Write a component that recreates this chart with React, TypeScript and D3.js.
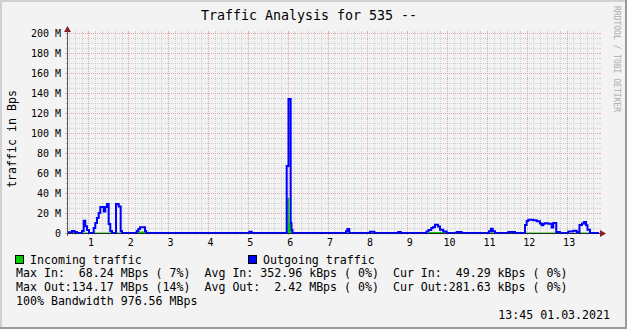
import React from 'react';
import * as d3 from 'd3';

const W = 627;
const H = 329;
const TITLE = 'Traffic Analysis for 535 --';
const Y_LABEL = 'traffic in Bps';
const WATERMARK = 'RRDTOOL / TOBI OETIKER';

const yTicks = [0, 20, 40, 60, 80, 100, 120, 140, 160, 180, 200];
const yTickLabels = ['0', '20 M', '40 M', '60 M', '80 M', '100 M', '120 M', '140 M', '160 M', '180 M', '200 M'];
const xTicks = [1, 2, 3, 4, 5, 6, 7, 8, 9, 10, 11, 12, 13];
const xTickLabels = ['1', '2', '3', '4', '5', '6', '7', '8', '9', '10', '11', '12', '13'];

// [time in days, value in MBps]
const outgoing: [number, number][] = [
  [0.462, 0.7], [0.587, 2], [0.65, 1], [0.713, 0],
  [0.838, 2], [0.881, 12.3], [0.921, 6.7], [0.964, 3], [1.014, 0],
  [1.132, 5], [1.172, 10], [1.215, 15], [1.257, 20], [1.297, 26], [1.383, 21.5],
  [1.423, 26], [1.465, 29], [1.508, 9], [1.548, 2], [1.591, 0],
  [1.691, 29], [1.759, 26.5], [1.809, 2], [1.842, 0],
  [2.211, 2], [2.251, 4], [2.294, 5.7], [2.419, 2], [2.448, 0],
  [5.036, 1.3], [5.097, 0],
  [5.975, 67], [6.02, 134], [6.075, 10], [6.095, 3], [6.12, 0],
  [7.463, 1.7], [7.496, 4], [7.546, 0],
  [8.065, 1.2], [8.178, 0],
  [8.775, 1], [8.836, 0],
  [9.483, 1.5], [9.533, 3], [9.603, 5], [9.654, 6], [9.696, 8.3], [9.772, 6.5],
  [9.822, 3.3], [9.904, 1.5], [9.99, 0],
  [10.241, 1], [10.366, 0],
  [11.052, 1.7], [11.097, 4.3], [11.144, 1.7], [11.202, 0],
  [11.536, 1], [11.704, 0],
  [11.955, 8], [11.997, 12], [12.037, 13.3], [12.162, 12.7], [12.248, 11.7], [12.33, 9.5],
  [12.373, 7.7], [12.413, 9.3], [12.455, 9.7], [12.54, 9.3], [12.624, 5.5], [12.665, 10],
  [12.74, 1], [12.832, 0],
  [13.041, 1.5], [13.167, 2.3], [13.252, 0.8], [13.322, 8], [13.385, 9.5], [13.435, 11],
  [13.485, 7.7], [13.523, 3.3], [13.586, 0],
  [13.812, 0],
];

const incoming: [number, number][] = [
  [0.462, 0], [0.788, 0.5], [1.842, 0],
  [2.211, 1.5], [2.448, 0],
  [5.989, 35], [6.04, 10], [6.083, 5], [6.113, 0],
  [7.488, 0.5], [7.546, 0],
  [9.546, 1], [9.997, 0],
  [11.077, 0.5], [11.202, 0],
  [11.955, 0.5], [12.758, 0],
  [13.335, 0.5], [13.586, 0],
  [13.812, 0],
];

const legendIn = 'Incoming traffic';
const legendOut = 'Outgoing traffic';
const statLines = [
  'Max In:  68.24 MBps ( 7%)  Avg In: 352.96 kBps ( 0%)  Cur In:  49.29 kBps ( 0%)',
  'Max Out:134.17 MBps (14%)  Avg Out:  2.42 MBps ( 0%)  Cur Out:281.63 kBps ( 0%)',
  '100% Bandwidth 976.56 MBps',
];
const DATE = '13:45 01.03.2021';

const X0 = 67;
const X1 = 599;
const Y0 = 233;
const Y1 = 33;
const FONT = '"DejaVu Sans Mono", monospace';
const MINOR = '#d2d2d2';
const MAJOR = '#e2a6a6';

export default function App() {
  const x = d3.scaleLinear().domain([0.462, 13.812]).range([X0, X1]);
  const y = d3.scaleLinear().domain([0, 200]).range([Y0, Y1]);
  const px = (v: number) => Math.round(v) + 0.5;

  const minorX: number[] = [];
  const [d0, d1] = x.domain();
  for (let k = Math.ceil(d0 * 6); k <= Math.floor(d1 * 6); k++) {
    if (k % 6 !== 0) minorX.push(k / 6);
  }
  const minorY: number[] = [];
  for (let v = 5; v < 200; v += 5) if (v % 20 !== 0) minorY.push(v);

  const area = d3.area<[number, number]>()
    .curve(d3.curveStepAfter)
    .x(d => x(d[0]))
    .y0(Y0)
    .y1(d => y(d[1]));
  const line = d3.line<[number, number]>()
    .curve(d3.curveStepAfter)
    .x(d => x(d[0]))
    .y(d => y(d[1]));

  const hLine = (v: number, color: string, key: string) => {
    const yy = px(y(v));
    return (
      <g key={key}>
        <line x1={X0 - 2} x2={X0} y1={yy} y2={yy} stroke={color} />
        <line x1={X0} x2={X1} y1={yy} y2={yy} stroke={color} strokeDasharray="1,1" />
        <line x1={X1} x2={X1 + 2} y1={yy} y2={yy} stroke={color} />
      </g>
    );
  };
  const vLine = (d: number, color: string, key: string) => {
    const xx = px(x(d));
    return (
      <g key={key}>
        <line x1={xx} x2={xx} y1={Y0} y2={Y0 + 2} stroke={color} />
        <line x1={xx} x2={xx} y1={Y1} y2={Y0} stroke={color} strokeDasharray="1,1" />
        <line x1={xx} x2={xx} y1={Y1 - 2} y2={Y1} stroke={color} />
      </g>
    );
  };

  return (
    <svg width={W} height={H} style={{ position: 'absolute', left: 0, top: 0, display: 'block' }}
      fontFamily={FONT}>
      <rect x={0} y={0} width={W} height={H} fill="#f3f3f3" />
      <rect x={0} y={0} width={W} height={2} fill="#d0d0d0" />
      <rect x={0} y={0} width={2} height={H} fill="#d0d0d0" />
      <rect x={W - 2} y={0} width={2} height={H} fill="#9a9a9a" />
      <rect x={0} y={H - 2} width={W} height={2} fill="#9a9a9a" />

      <text x={309} y={20} textAnchor="middle" fontSize={13.3} fill="#000">{TITLE}</text>
      <text x={614} y={6} fontSize={8} fill="#aaaaaa" transform="rotate(90 614 6)">{WATERMARK}</text>

      {minorY.map(v => hLine(v, MINOR, 'mh' + v))}
      {minorX.map(d => vLine(d, MINOR, 'mv' + d))}
      {yTicks.filter(v => v > 0).map(v => hLine(v, MAJOR, 'Mh' + v))}
      {xTicks.map(d => vLine(d, MAJOR, 'Mv' + d))}

      <path d={area(incoming) || ''} fill="#00cc00" />
      <line x1={X0} x2={X1 + 2} y1={Y0 + 0.5} y2={Y0 + 0.5} stroke="#333" />
      <path d={line(outgoing) || ''} fill="none" stroke="#0000ff" strokeWidth={2} />

      <line x1={X0 + 0.5} x2={X0 + 0.5} y1={Y1 - 4} y2={Y0 + 3} stroke="#555" />
      <line x1={X0 - 2} x2={X1 + 2} y1={Y0 + 0.5} y2={Y0 + 0.5} stroke="#222" strokeOpacity={0.35} />
      <path d={`M${X0 - 3},${Y1 - 1} L${X0 + 0.5},${Y1 - 7} L${X0 + 4},${Y1 - 1} Z`} fill="#8b1f1f" />
      <path d={`M${X1 + 1},${Y0 - 3} L${X1 + 7},${Y0 + 0.5} L${X1 + 1},${Y0 + 4} Z`} fill="#8b1f1f" />

      {yTicks.map((v, i) => (
        <text key={'yt' + v} x={61} y={y(v) + 3.5} textAnchor="end" fontSize={10} fill="#000">{yTickLabels[i]}</text>
      ))}
      {xTicks.map((d, i) => (
        <text key={'xt' + d} x={x(d) + 2.5} y={246} textAnchor="middle" fontSize={10} fill="#000">{xTickLabels[i]}</text>
      ))}

      <text x={16} y={139} textAnchor="middle" fontSize={11.6} fill="#000" transform="rotate(-90 16 139)">{Y_LABEL}</text>

      <rect x={15.5} y={255.5} width={8} height={8} fill="#00cc00" stroke="#000" />
      <text x={30} y={264} fontSize={11.6} fill="#000" style={{ whiteSpace: 'pre' }}>{legendIn}</text>
      <rect x={248.5} y={255.5} width={8} height={8} fill="#0000ff" stroke="#000" />
      <text x={263} y={264} fontSize={11.6} fill="#000" style={{ whiteSpace: 'pre' }}>{legendOut}</text>
      {statLines.map((s, i) => (
        <text key={'s' + i} x={16} y={277 + i * 14} fontSize={11.6} fill="#000" style={{ whiteSpace: 'pre' }}>{s}</text>
      ))}
      <text x={610} y={319} textAnchor="end" fontSize={11.6} fill="#000" style={{ whiteSpace: 'pre' }}>{DATE}</text>
    </svg>
  );
}
